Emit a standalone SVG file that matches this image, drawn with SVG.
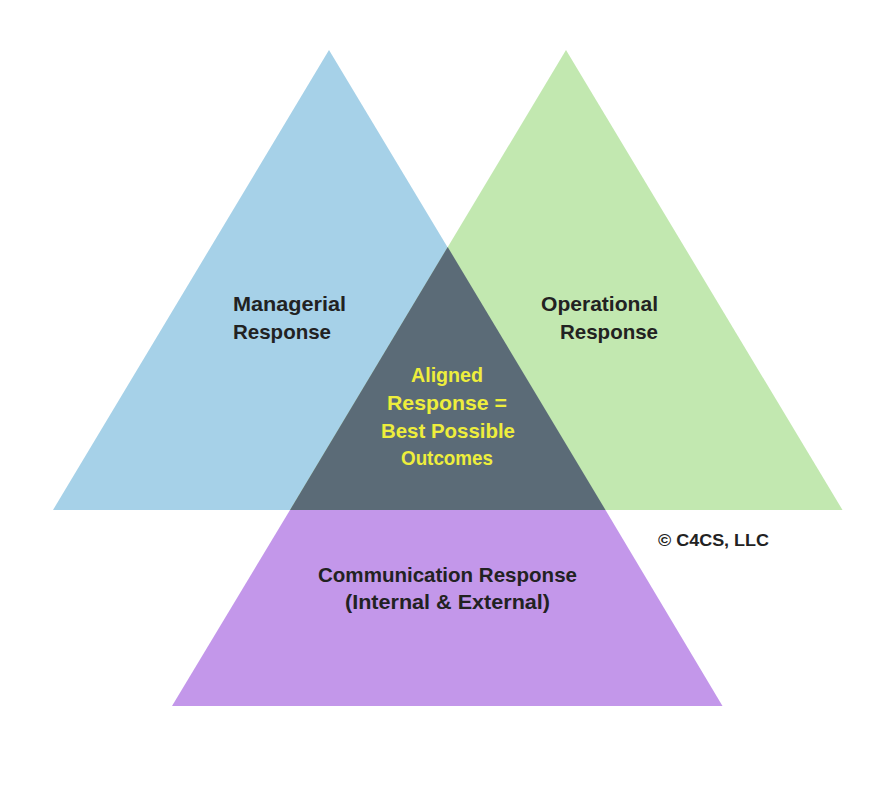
<svg xmlns="http://www.w3.org/2000/svg" width="895" height="791" viewBox="0 0 895 791">
<style>
.lbl{font-family:"Liberation Sans",Arial,sans-serif;font-weight:bold;font-size:21px;fill:#222;}
.mid{text-anchor:middle;}
.end{text-anchor:end;}
.yel{fill:#eeee3c;}
.copy{font-family:"Liberation Sans",Arial,sans-serif;font-weight:bold;font-size:17px;fill:#222;}
</style>
<rect width="895" height="791" fill="#ffffff"/>
<g id="managerial">
<polygon points="329,50 53,510 605.5,510" fill="#a6d1e8"/>
<text class="lbl" x="233" y="311" textLength="113" lengthAdjust="spacingAndGlyphs">Managerial</text>
<text class="lbl" x="233" y="339" textLength="98" lengthAdjust="spacingAndGlyphs">Response</text>
</g>
<g id="operational">
<polygon points="566,50 290,510 842.5,510" fill="#c2e8b0"/>
<text class="lbl end" x="658" y="311" textLength="117" lengthAdjust="spacingAndGlyphs">Operational</text>
<text class="lbl end" x="658" y="339" textLength="98" lengthAdjust="spacingAndGlyphs">Response</text>
</g>
<g id="communication">
<polygon points="290,510 605.5,510 722.5,706 172,706" fill="#c397ea"/>
<text class="lbl mid" x="447.5" y="582" textLength="259" lengthAdjust="spacingAndGlyphs">Communication Response</text>
<text class="lbl mid" x="447.5" y="609" textLength="205" lengthAdjust="spacingAndGlyphs">(Internal &amp; External)</text>
</g>
<g id="aligned">
<polygon points="447.7,247 290,510 605.5,510" fill="#5b6b77"/>
<text class="lbl mid yel" x="447" y="382" textLength="72" lengthAdjust="spacingAndGlyphs">Aligned</text>
<text class="lbl mid yel" x="447" y="410" textLength="120" lengthAdjust="spacingAndGlyphs">Response =</text>
<text class="lbl mid yel" x="448" y="438" textLength="134" lengthAdjust="spacingAndGlyphs">Best Possible</text>
<text class="lbl mid yel" x="447" y="465" textLength="92" lengthAdjust="spacingAndGlyphs">Outcomes</text>
</g>
<g id="connectors"></g>
<g id="copyright">
<text class="copy" x="658" y="546" textLength="111" lengthAdjust="spacingAndGlyphs">© C4CS, LLC</text>
</g>
</svg>
